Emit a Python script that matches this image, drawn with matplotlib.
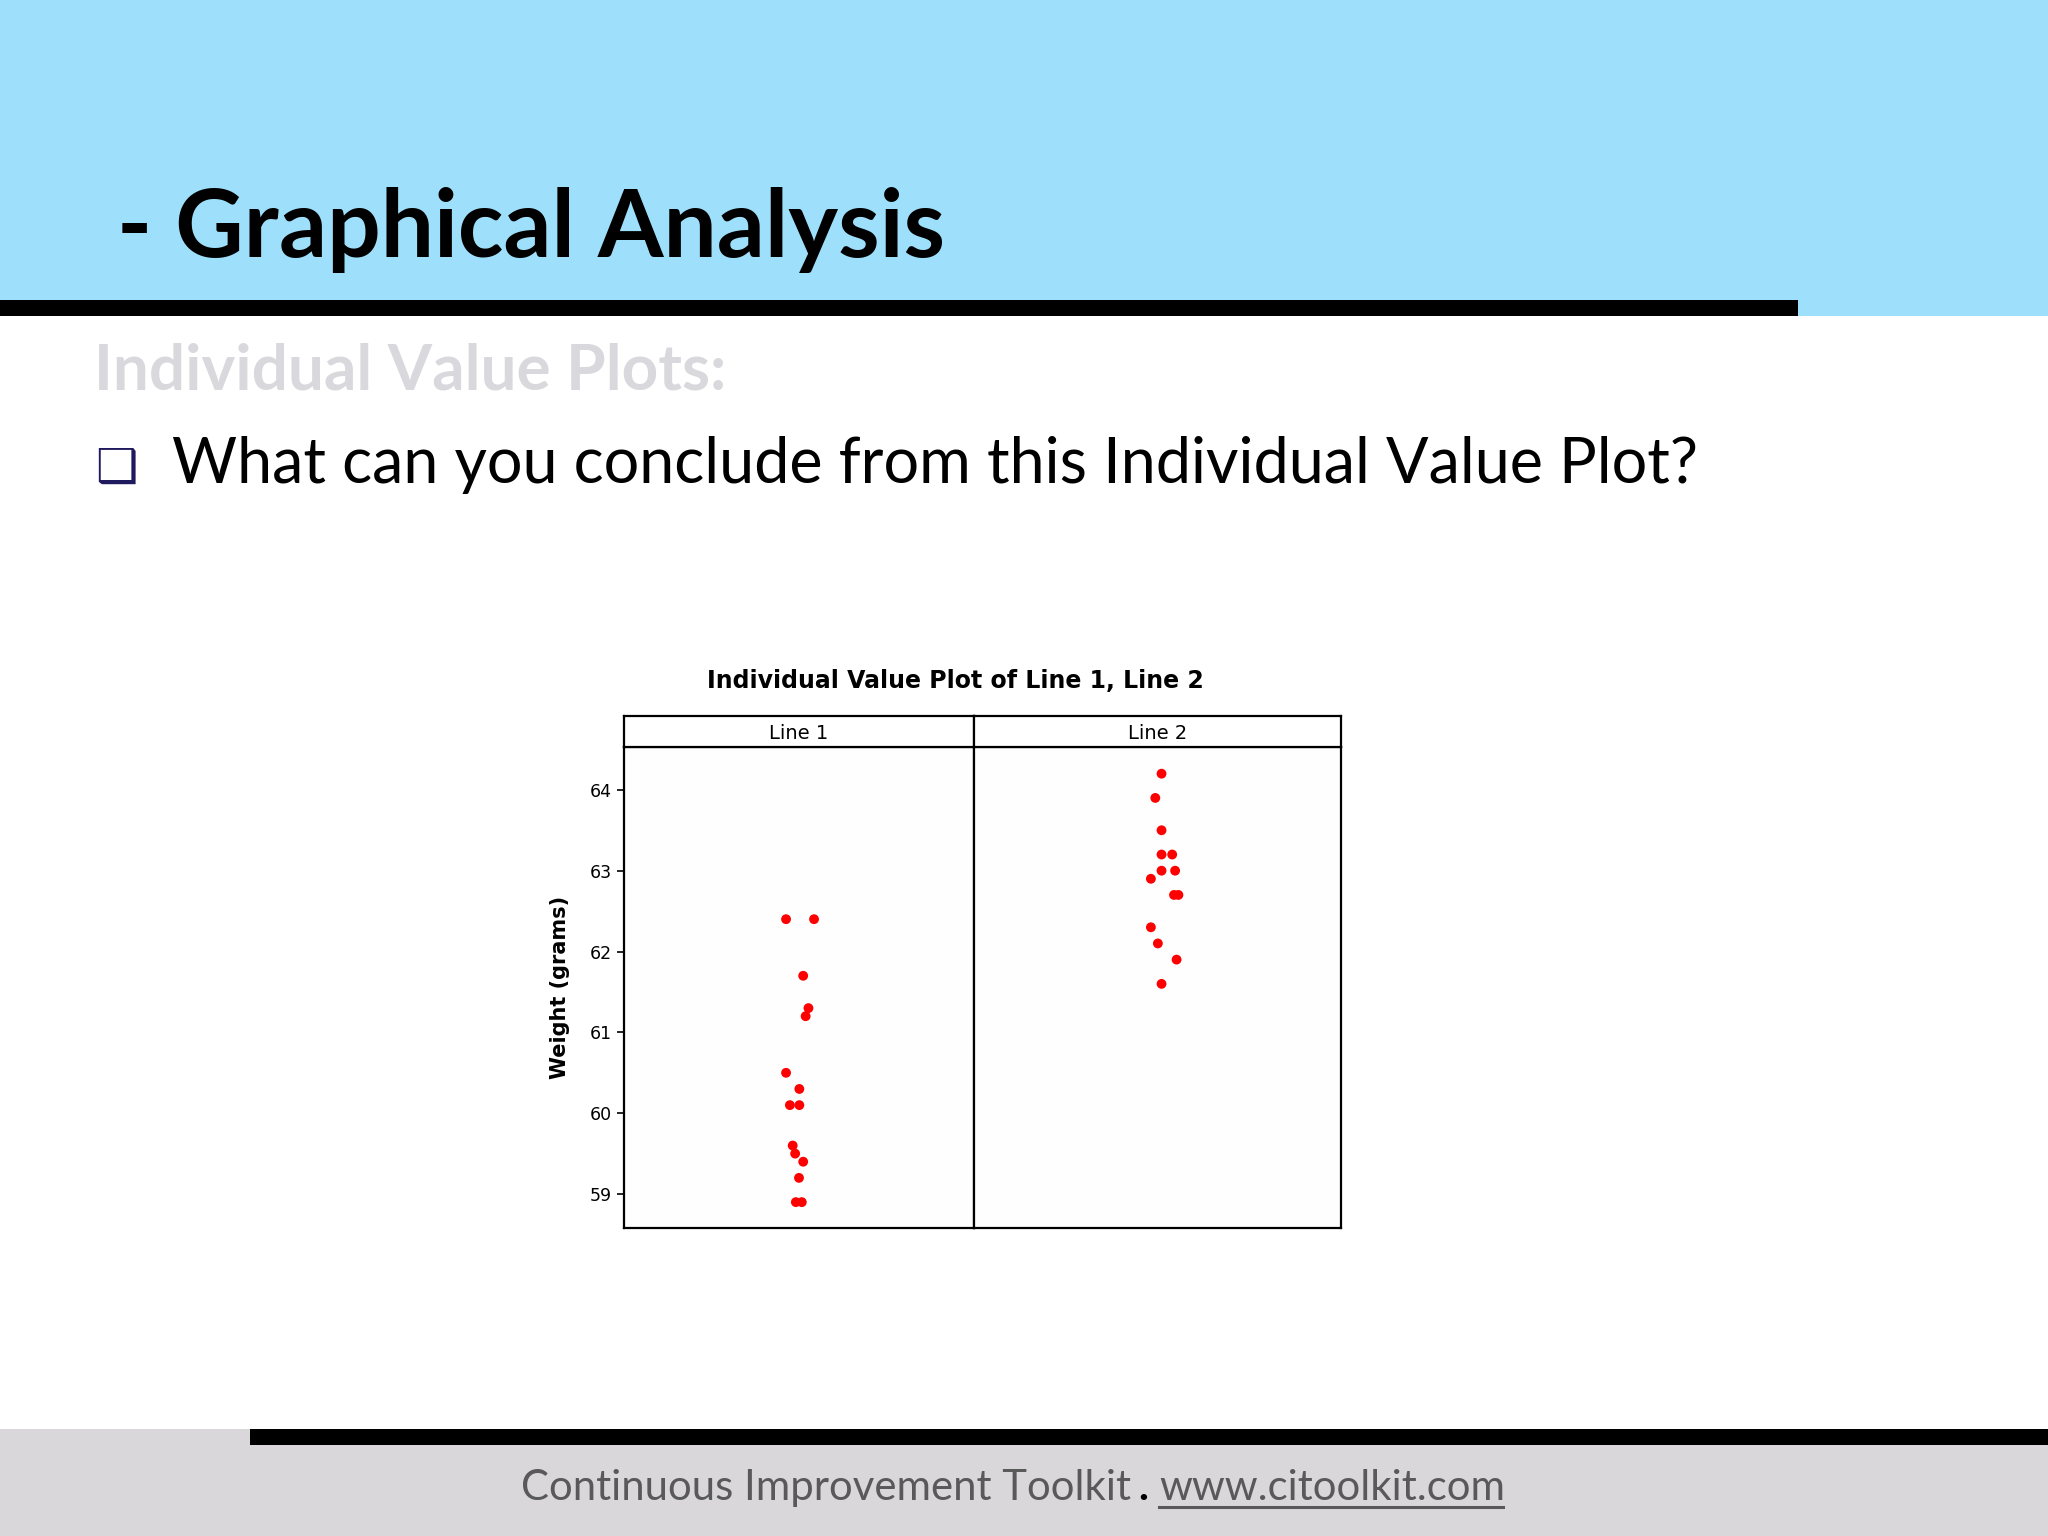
import matplotlib
matplotlib.use('Agg')
import matplotlib.pyplot as plt
from matplotlib.patches import Rectangle
from matplotlib.lines import Line2D

# ---------------- data ----------------
categories = ['Line 1', 'Line 2']
line1_weights = [62.4, 62.4, 61.7, 61.3, 61.2, 60.5, 60.3, 60.1, 60.1, 59.6, 59.5, 59.4, 59.2, 58.9, 58.9]
line1_jitter = [-0.037, 0.043, 0.012, 0.027, 0.019, -0.037, 0.001, -0.026, 0.001, -0.018, -0.011, 0.012, 0.0, -0.009, 0.008]
line2_weights = [64.2, 63.9, 63.5, 63.2, 63.2, 63.0, 63.0, 62.9, 62.7, 62.7, 62.3, 62.1, 61.9, 61.6]
line2_jitter = [0.011, -0.006, 0.011, 0.011, 0.040, 0.011, 0.048, -0.018, 0.045, 0.057, -0.018, 0.001, 0.052, 0.011]
y_ticks = [59, 60, 61, 62, 63, 64]

chart_title = 'Individual Value Plot of Line 1, Line 2'
y_label = 'Weight (grams)'

# ---------------- figure ----------------
W, H = 2048, 1536
fig = plt.figure(figsize=(20.48, 15.36), dpi=100)
fig.patch.set_facecolor('white')

def fx(px):
    return px / W

def fy(py):
    return 1 - py / H

def frect(x0, y0, x1, y1, color, z=0):
    fig.patches.append(Rectangle((fx(x0), fy(y1)), (x1 - x0) / W, (y1 - y0) / H,
                                 transform=fig.transFigure, facecolor=color,
                                 edgecolor='none', zorder=z))

# header band
frect(0, 0, W, 316, '#9EE0FB')
frect(0, 300, 1798, 316, '#000000', 1)
# footer band
frect(0, 1429, W, H, '#D9D7DA')
frect(250, 1429, W, 1445, '#000000', 1)

fig.text(fx(117), fy(257), '- Graphical Analysis', fontsize=68, fontweight='bold',
         family='Lato', color='black', ha='left', va='baseline')
fig.text(fx(94), fy(390), 'Individual Value Plots:', fontsize=46, fontweight='bold',
         family='Lato', color='#D9D8DC', ha='left', va='baseline')
fig.text(fx(95), fy(482), '\u2751', fontsize=34, family='DejaVu Sans',
         color='#1F1A5E', ha='left', va='baseline')
fig.text(fx(172), fy(483), 'What can you conclude from this Individual Value Plot?',
         fontsize=45.3, family='Lato', color='black', ha='left', va='baseline')

# footer text
fig.text(fx(521), fy(1500), 'Continuous Improvement Toolkit', fontsize=30.2,
         family='Lato', color='#595959', ha='left', va='baseline')
fig.text(fx(1143), fy(1500), '.', fontsize=30.2, fontweight='bold',
         family='Lato', color='black', ha='center', va='baseline')
fig.text(fx(1159), fy(1500), 'www.citoolkit.com', fontsize=30.2,
         family='Lato', color='#595959', ha='left', va='baseline')
fig.lines.append(Line2D([fx(1159), fx(1503)], [fy(1507), fy(1507)],
                        transform=fig.transFigure, color='#595959', lw=2.2))

# ---------------- chart ----------------
ymin, ymax = 58.58, 64.53
panels = [(624, 974), (974, 1341)]
top_px, strip_px, bot_px = 716, 747, 1228
series = [(line1_weights, line1_jitter), (line2_weights, line2_jitter)]

for i, ((x0, x1), (vals, jit)) in enumerate(zip(panels, series)):
    ax = fig.add_axes([fx(x0), fy(bot_px), (x1 - x0) / W, (bot_px - strip_px) / H])
    ax.set_facecolor('#FEFEFE')
    ax.scatter(jit, vals, s=50, color='#FF0000', edgecolors='none', zorder=3)
    ax.set_xlim(-0.5, 0.5)
    ax.set_ylim(ymin, ymax)
    ax.set_xticks([])
    for sp in ax.spines.values():
        sp.set_linewidth(1.6)
        sp.set_color('black')
    if i == 0:
        ax.set_yticks(y_ticks)
        ax.tick_params(axis='y', length=5, width=1.2, labelsize=12.5, pad=4)
        ax.set_ylabel(y_label, fontsize=15, fontweight='bold', labelpad=14)
    else:
        ax.set_yticks([])
    # strip
    sax = fig.add_axes([fx(x0), fy(strip_px), (x1 - x0) / W, (strip_px - top_px) / H])
    sax.set_xticks([])
    sax.set_yticks([])
    sax.set_facecolor('white')
    for sp in sax.spines.values():
        sp.set_linewidth(1.6)
    sax.text(0.5, 0.45, categories[i], ha='center', va='center', fontsize=14,
             transform=sax.transAxes)

fig.text(fx(955), fy(681), chart_title, ha='center', va='center', fontsize=17,
         fontweight='bold')

fig.savefig('out.png', dpi=100)
